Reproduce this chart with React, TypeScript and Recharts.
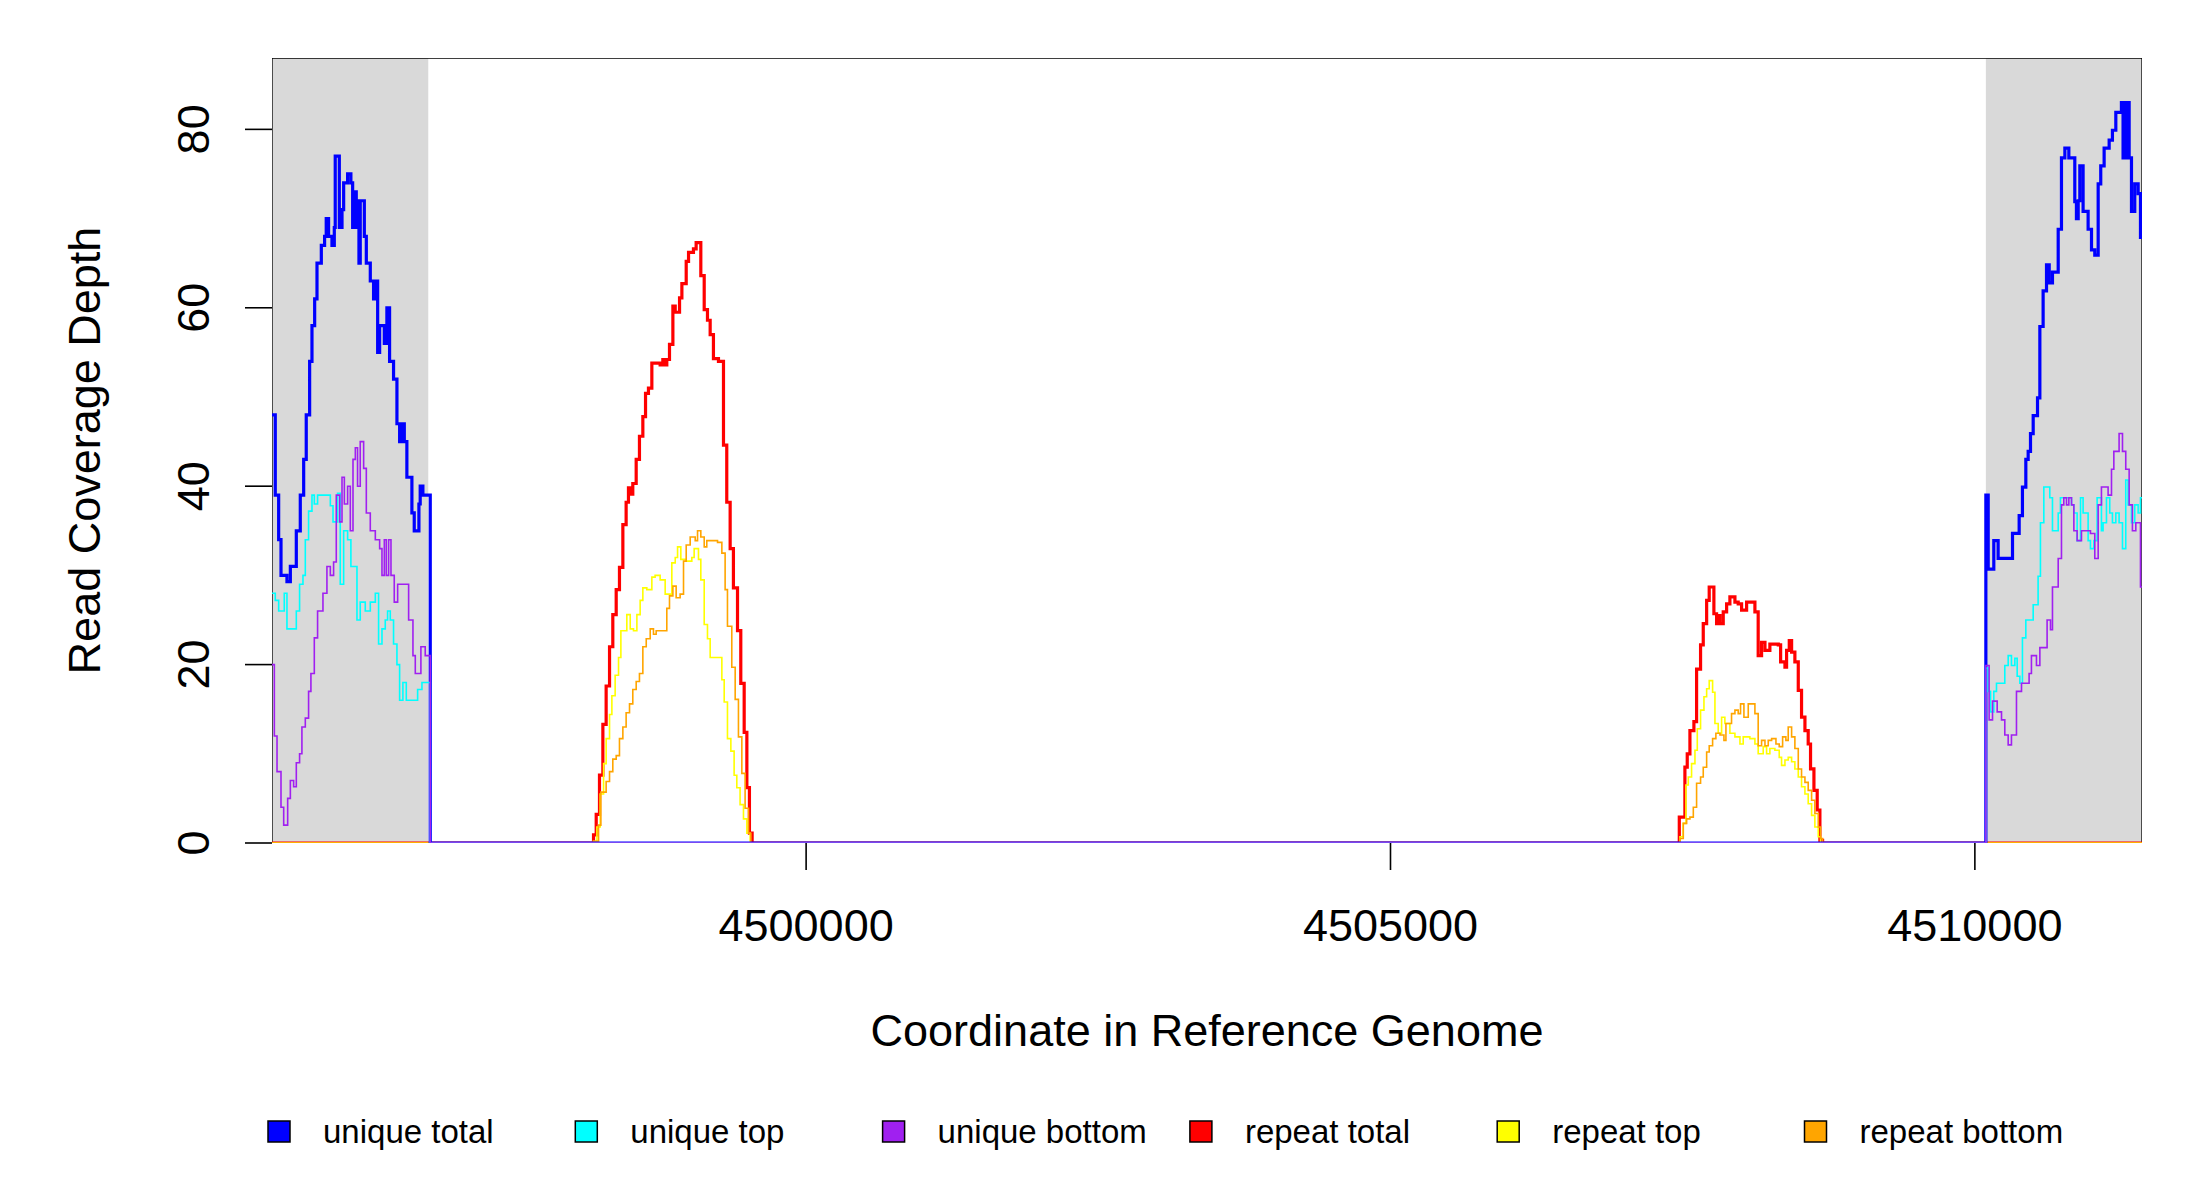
import React from "react";
import { LineChart, Line, XAxis, YAxis, ReferenceArea, Label } from "recharts";

// ---- axes / layout data ----
const X_DOMAIN: [number, number] = [4495430, 4511430];
const Y_DOMAIN: [number, number] = [0, 88];
const X_TICKS = [4500000, 4505000, 4510000];
const Y_TICKS = [0, 20, 40, 60, 80];
const FLANKS: [number, number][] = [
  [4495430, 4496767],
  [4510094, 4511430],
];
const X_TITLE = "Coordinate in Reference Genome";
const Y_TITLE = "Read Coverage Depth";

// ---- series: [genome coordinate, depth] step points ----
const uniqueTotal: [number, number][] = [
  [4495430, 48], [4495458, 39], [4495487, 34], [4495507, 30], [4495558, 29.3], [4495587, 31],
  [4495638, 35], [4495672, 39], [4495701, 43], [4495723, 48], [4495752, 54], [4495772, 58],
  [4495795, 61], [4495815, 65], [4495852, 67], [4495880, 68], [4495894, 70], [4495914, 68],
  [4495943, 67], [4495963, 69], [4495971, 77], [4496006, 69], [4496029, 71], [4496043, 74],
  [4496077, 75], [4496105, 74], [4496120, 69], [4496134, 73], [4496151, 69], [4496162, 72],
  [4496174, 65], [4496185, 72], [4496220, 68], [4496237, 65], [4496271, 63], [4496299, 61],
  [4496322, 63], [4496334, 55], [4496351, 58], [4496391, 56], [4496413, 60], [4496436, 54],
  [4496470, 52], [4496499, 47], [4496522, 45], [4496542, 47], [4496562, 45], [4496584, 41],
  [4496627, 37], [4496647, 35], [4496687, 38], [4496698, 40], [4496721, 39], [4496784, 0],
  [4510094, 39], [4510114, 30.7], [4510162, 33.9], [4510199, 31.9], [4510322, 34.7], [4510379, 36.7],
  [4510407, 39.9], [4510436, 43], [4510456, 43.9], [4510476, 45.9], [4510499, 47.9], [4510536, 49.9],
  [4510556, 57.9], [4510584, 61.9], [4510613, 64.8], [4510636, 62.8], [4510664, 64], [4510713, 68.8],
  [4510741, 76.8], [4510770, 77.9], [4510804, 76.8], [4510855, 71.9], [4510869, 70], [4510884, 72],
  [4510898, 75.9], [4510926, 70.8], [4510969, 68.8], [4510998, 66.5], [4511026, 65.9], [4511055, 73.9],
  [4511077, 75.9], [4511106, 77.9], [4511149, 78.8], [4511177, 79.9], [4511206, 81.9], [4511254, 83],
  [4511268, 76.8], [4511285, 83], [4511300, 76.8], [4511314, 83], [4511320, 76.8], [4511340, 70.8],
  [4511368, 73.9], [4511397, 72.8], [4511417, 67.9], [4511430, 67.9],
];

const uniqueTop: [number, number][] = [
  [4495430, 28], [4495458, 27.2], [4495487, 26], [4495535, 28], [4495558, 24], [4495638, 26],
  [4495666, 29], [4495695, 30], [4495715, 34], [4495743, 37.2], [4495772, 39], [4495792, 38],
  [4495820, 39], [4495929, 37.8], [4495952, 36], [4495991, 39.2], [4496014, 29], [4496043, 35],
  [4496077, 34], [4496105, 31], [4496157, 25], [4496185, 27], [4496228, 26], [4496271, 27],
  [4496314, 28], [4496342, 22.3], [4496371, 24], [4496399, 25], [4496419, 26], [4496442, 25],
  [4496470, 22.3], [4496499, 20], [4496522, 16], [4496550, 18], [4496579, 16], [4496676, 17.2],
  [4496713, 18], [4496784, 0],
  [4510094, 19.6], [4510114, 17], [4510134, 14.7], [4510162, 17], [4510185, 17.9], [4510256, 19.9],
  [4510285, 21], [4510313, 19.9], [4510342, 20.7], [4510362, 18.7], [4510385, 17.9], [4510407, 23],
  [4510436, 25], [4510499, 26.7], [4510541, 29.9], [4510561, 35.9], [4510590, 39.9], [4510641, 38.7],
  [4510664, 35], [4510713, 37], [4510732, 38.7], [4510827, 37.9], [4510847, 37], [4510875, 33.9],
  [4510904, 38.7], [4510926, 37], [4510969, 33.9], [4510989, 33], [4511018, 33.9], [4511046, 38.7],
  [4511083, 35], [4511097, 35.9], [4511126, 38.7], [4511154, 37], [4511177, 35.9], [4511206, 37],
  [4511234, 35.9], [4511263, 33], [4511291, 40.7], [4511311, 37.9], [4511340, 35.9], [4511368, 37.9],
  [4511397, 37], [4511417, 38.7], [4511430, 38.7],
];

const uniqueBottom: [number, number][] = [
  [4495430, 20], [4495450, 12], [4495473, 8], [4495507, 4], [4495530, 2], [4495564, 5],
  [4495587, 7], [4495615, 6.3], [4495638, 9], [4495666, 10], [4495686, 13], [4495715, 14],
  [4495743, 17], [4495763, 19], [4495792, 23], [4495820, 26], [4495866, 28], [4495900, 31],
  [4495929, 30], [4495957, 31.5], [4495980, 39], [4496009, 36], [4496029, 41], [4496049, 38],
  [4496077, 40], [4496100, 35], [4496123, 43], [4496143, 44.3], [4496162, 40], [4496185, 45],
  [4496214, 42], [4496237, 37], [4496271, 35], [4496314, 34], [4496351, 33], [4496371, 30],
  [4496391, 34], [4496408, 30], [4496428, 34], [4496448, 30], [4496476, 27], [4496505, 29],
  [4496599, 25], [4496636, 21], [4496656, 19], [4496704, 22], [4496741, 21], [4496784, 0],
  [4510094, 19.9], [4510122, 13.8], [4510151, 15.9], [4510191, 14.7], [4510228, 13.8], [4510256, 12.1],
  [4510285, 11], [4510313, 12.1], [4510356, 17], [4510399, 17.9], [4510464, 19], [4510484, 21],
  [4510527, 19.9], [4510556, 21.9], [4510618, 25], [4510647, 23.9], [4510664, 28.7], [4510713, 31.9],
  [4510741, 37.9], [4510761, 38.7], [4510784, 37.9], [4510804, 38.7], [4510827, 37.9], [4510847, 35],
  [4510875, 33.9], [4510912, 35], [4510989, 34.7], [4511026, 31.9], [4511055, 37.9], [4511083, 39.9],
  [4511140, 39], [4511169, 41.9], [4511189, 43.9], [4511234, 45.9], [4511263, 43.9], [4511291, 41.9],
  [4511320, 37.9], [4511348, 35], [4511377, 35.9], [4511417, 28.7], [4511430, 28.7],
];

const repeatTotal: [number, number][] = [
  [4495430, 0],
  [4498181, 0.9], [4498204, 3.2], [4498232, 7.6], [4498261, 13.3], [4498289, 17.6], [4498318, 22],
  [4498346, 25.6], [4498375, 28.4], [4498403, 30.9], [4498432, 35.7], [4498460, 38.2], [4498480, 39.8],
  [4498495, 39.1], [4498517, 40.3], [4498546, 43], [4498574, 45.6], [4498603, 47.8], [4498626, 50.4],
  [4498651, 51], [4498680, 53.8], [4498751, 53.6], [4498774, 54.2], [4498794, 53.6], [4498808, 54.2],
  [4498831, 55.9], [4498860, 60.2], [4498880, 59.5], [4498917, 61.1], [4498937, 62.7], [4498974, 65.2],
  [4498994, 66.2], [4499036, 66.6], [4499059, 67.3], [4499099, 63.6], [4499128, 59.8], [4499156, 58.6],
  [4499179, 57], [4499207, 54.3], [4499250, 54], [4499293, 44.6], [4499321, 38.2], [4499350, 33],
  [4499378, 28.6], [4499413, 23.8], [4499441, 17.9], [4499470, 12.4], [4499493, 6.2], [4499515, 1.1],
  [4499538, 0],
  [4507471, 2.9], [4507519, 8.5], [4507539, 10], [4507562, 12.6], [4507596, 13.6], [4507619, 19.5],
  [4507653, 22.2], [4507676, 24.6], [4507705, 27.2], [4507727, 28.7], [4507767, 25.7], [4507790, 24.6],
  [4507804, 25.5], [4507819, 24.6], [4507847, 25.9], [4507876, 26.8], [4507904, 27.6], [4507947, 27],
  [4507975, 26.8], [4508004, 26.1], [4508047, 27], [4508118, 25.9], [4508146, 21], [4508175, 22.5],
  [4508204, 21.6], [4508246, 22.3], [4508318, 22.2], [4508338, 20.3], [4508375, 19.7], [4508389, 21.6],
  [4508412, 22.7], [4508432, 21.4], [4508460, 20.3], [4508489, 17.1], [4508517, 14.1], [4508546, 12.6],
  [4508574, 11.1], [4508594, 8.3], [4508623, 5.9], [4508651, 3.7], [4508674, 0.3], [4508697, 0],
  [4511430, 0],
];

const repeatTop: [number, number][] = [
  [4495430, 0],
  [4498181, 0.2], [4498210, 1.8], [4498238, 5.5], [4498267, 8.9], [4498289, 11.7], [4498318, 14.4],
  [4498338, 16.5], [4498366, 18.8], [4498395, 20.8], [4498415, 23.8], [4498466, 25.6], [4498495, 24],
  [4498523, 23.8], [4498552, 25.6], [4498580, 27.2], [4498603, 28.6], [4498637, 28.4], [4498680, 29.8],
  [4498708, 30], [4498751, 29.5], [4498794, 27.9], [4498851, 31.4], [4498880, 32], [4498900, 33.2],
  [4498928, 31.8], [4498974, 31.6], [4499022, 32], [4499042, 33], [4499079, 31.8], [4499099, 29.5],
  [4499128, 24.5], [4499156, 22.9], [4499179, 20.8], [4499279, 18.3], [4499299, 15.8], [4499327, 11.7],
  [4499356, 10.3], [4499384, 7.6], [4499407, 6.2], [4499435, 4.3], [4499464, 2.7], [4499493, 1.1],
  [4499521, 0],
  [4507477, 0.7], [4507505, 2.2], [4507528, 6.5], [4507548, 7.4], [4507576, 8.9], [4507605, 10.4],
  [4507625, 12.8], [4507653, 14.9], [4507682, 16.4], [4507705, 17.3], [4507727, 18.2], [4507756, 16.9],
  [4507776, 13.4], [4507804, 12.3], [4507833, 14.1], [4507861, 13.4], [4507904, 12.3], [4507947, 11.9],
  [4507990, 11.1], [4508018, 11.9], [4508075, 11.7], [4508118, 11.1], [4508146, 10], [4508189, 10.8],
  [4508218, 10], [4508246, 10.6], [4508289, 10.4], [4508326, 9.6], [4508346, 8.7], [4508375, 9.3],
  [4508403, 9.6], [4508432, 9.1], [4508460, 8.3], [4508489, 7.4], [4508517, 6.3], [4508546, 5.5],
  [4508574, 4.4], [4508603, 3.1], [4508631, 1.8], [4508660, 0.7], [4508680, 0],
  [4511430, 0],
];

const repeatBottom: [number, number][] = [
  [4495430, 0],
  [4498181, 0.2], [4498224, 2], [4498244, 5.7], [4498289, 6.9], [4498318, 8], [4498346, 9.4],
  [4498375, 9.8], [4498403, 11.7], [4498432, 13], [4498460, 14.6], [4498489, 15.6], [4498517, 17.2],
  [4498546, 18.1], [4498574, 19], [4498603, 22], [4498632, 22.9], [4498666, 24], [4498694, 23.4],
  [4498717, 23.8], [4498808, 26.3], [4498831, 27.7], [4498860, 28.8], [4498888, 27.5], [4498922, 27.9],
  [4498951, 31.6], [4498974, 33.4], [4499008, 34.3], [4499051, 33.9], [4499071, 35], [4499099, 34.3],
  [4499128, 33.2], [4499150, 33.9], [4499242, 33.7], [4499279, 32.5], [4499307, 28.4], [4499327, 24.3],
  [4499364, 19.7], [4499393, 16.1], [4499421, 11.9], [4499450, 7.8], [4499478, 3.9], [4499507, 1.1],
  [4499527, 0],
  [4507477, 0.5], [4507505, 2.2], [4507534, 2.7], [4507562, 2.9], [4507591, 4], [4507619, 6.7],
  [4507653, 7.4], [4507676, 8.5], [4507705, 10.2], [4507727, 10.9], [4507756, 11.7], [4507784, 12.3],
  [4507819, 12.1], [4507853, 11.5], [4507870, 13.4], [4507918, 14.5], [4507947, 14.9], [4507975, 14.5],
  [4507995, 15.6], [4508024, 14.1], [4508061, 15.6], [4508118, 14.5], [4508146, 10.9], [4508175, 11.5],
  [4508204, 10.9], [4508232, 11.5], [4508261, 11.7], [4508298, 11.1], [4508326, 10.8], [4508355, 11.9],
  [4508383, 11.5], [4508403, 13], [4508432, 11.9], [4508460, 10.6], [4508489, 8.3], [4508517, 7.4],
  [4508546, 6.8], [4508574, 5.9], [4508603, 4.8], [4508631, 3.3], [4508660, 1.8], [4508680, 0.5],
  [4508697, 0],
  [4511430, 0],
];

const SERIES_NAMES = ["unique total", "unique top", "unique bottom", "repeat total", "repeat top", "repeat bottom"];
const SERIES_COLORS = ["#0000FF", "#00FFFF", "#A020F0", "#FF0000", "#FFFF00", "#FFA500"];
const SERIES_DATA = [uniqueTotal, uniqueTop, uniqueBottom, repeatTotal, repeatTop, repeatBottom];
const SERIES_WIDTHS = [3.2, 1.6, 1.6, 3.2, 1.6, 1.6];
// repeat series drawn first, unique series on top
const DRAW_ORDER = [3, 4, 5, 0, 1, 2];

const FONT = "'Liberation Sans', Arial, Helvetica, sans-serif";

const toPoints = (arr: [number, number][]) => arr.map(([x, y]) => ({ x, y }));

const YTick = (props: any) => {
  const { x, y, payload } = props;
  const bx = x - 36;
  return (
    <text x={bx} y={y} transform={`rotate(-90, ${bx}, ${y})`} textAnchor="middle" fontSize={45} fontFamily={FONT} fill="#000">
      {payload.value}
    </text>
  );
};

const XTick = (props: any) => {
  const { x, y, payload } = props;
  return (
    <text x={x} y={y + 71} textAnchor="middle" fontSize={45} fontFamily={FONT} fill="#000">
      {payload.value}
    </text>
  );
};

const XTitle = (props: any) => {
  const vb = props.viewBox || {};
  return (
    <text x={vb.x + vb.width / 2} y={vb.y + 203} textAnchor="middle" fontSize={45} fontFamily={FONT} fill="#000">
      {X_TITLE}
    </text>
  );
};

const YTitle = (props: any) => {
  const vb = props.viewBox || {};
  const cx = 100;
  const cy = vb.y + vb.height / 2;
  return (
    <text x={cx} y={cy} transform={`rotate(-90, ${cx}, ${cy})`} textAnchor="middle" fontSize={45} fontFamily={FONT} fill="#000">
      {Y_TITLE}
    </text>
  );
};

const LegendBox = () => (
  <svg width={2200} height={1200} style={{ position: "absolute", left: 0, top: 0, pointerEvents: "none" }}>
    {SERIES_NAMES.map((name, i) => {
      const lx = 268 + i * 307.3;
      return (
        <g key={name}>
          <rect x={lx} y={1121} width={22} height={21} fill={SERIES_COLORS[i]} stroke="#000" strokeWidth={1.5} />
          <text x={lx + 55} y={1143} fontSize={33} fontFamily={FONT} fill="#000">
            {name}
          </text>
        </g>
      );
    })}
  </svg>
);

export default function App() {
  return (
    <div style={{ position: "absolute", left: 0, top: 0, width: 2200, height: 1200, background: "#fff" }}>
      <LineChart width={2200} height={1200} margin={{ top: 58, right: 58, bottom: 157, left: 0 }}>
        <XAxis
          type="number"
          dataKey="x"
          domain={X_DOMAIN}
          allowDataOverflow
          ticks={X_TICKS}
          interval={0}
          axisLine={false}
          tickLine={{ stroke: "#000", strokeWidth: 1.6 }}
          tickSize={27}
          tickMargin={0}
          height={200}
          tick={<XTick />}
        >
          <Label content={<XTitle />} />
        </XAxis>
        <YAxis
          type="number"
          domain={Y_DOMAIN}
          allowDataOverflow
          ticks={Y_TICKS}
          interval={0}
          axisLine={false}
          tickLine={{ stroke: "#000", strokeWidth: 1.6 }}
          tickSize={27}
          tickMargin={0}
          width={272}
          tick={<YTick />}
        >
          <Label content={<YTitle />} />
        </YAxis>
        {FLANKS.map(([a, b], i) => (
          <ReferenceArea key={`f${i}`} x1={a} x2={b} y1={Y_DOMAIN[0]} y2={Y_DOMAIN[1]} fill="#D9D9D9" fillOpacity={1} stroke="none" ifOverflow="hidden" />
        ))}
        {DRAW_ORDER.map((i) => (
          <Line
            key={SERIES_NAMES[i]}
            name={SERIES_NAMES[i]}
            data={toPoints(SERIES_DATA[i])}
            dataKey="y"
            type="stepAfter"
            stroke={SERIES_COLORS[i]}
            strokeWidth={SERIES_WIDTHS[i]}
            dot={false}
            activeDot={false}
            isAnimationActive={false}
          />
        ))}
        <ReferenceArea x1={X_DOMAIN[0]} x2={X_DOMAIN[1]} y1={Y_DOMAIN[0]} y2={Y_DOMAIN[1]} fill="none" stroke="#000" strokeWidth={1.3} ifOverflow="hidden" />
      </LineChart>
      <LegendBox />
    </div>
  );
}
